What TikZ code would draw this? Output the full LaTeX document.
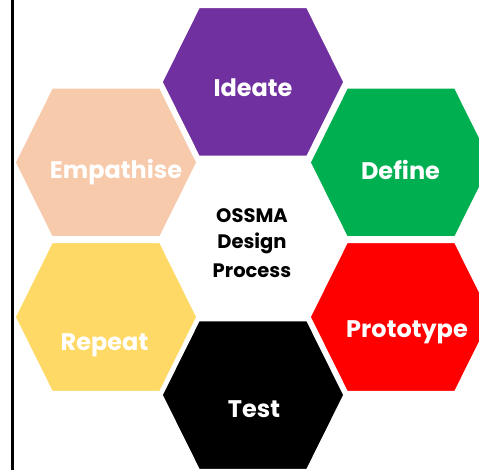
\documentclass[tikz,border=0pt]{standalone}
\usepackage{fontspec}
\setmainfont{Poppins}
\definecolor{ideatec}{RGB}{112,48,160}
\definecolor{definec}{RGB}{0,176,80}
\definecolor{protoc}{RGB}{255,0,0}
\definecolor{testc}{RGB}{0,0,0}
\definecolor{empc}{RGB}{247,202,172}
\definecolor{repc}{RGB}{255,217,102}
\tikzset{
  hexlabel/.style={anchor=base,text=white,font=\bfseries\fontsize{24}{29}\selectfont,inner sep=0pt},
  centerlabel/.style={anchor=base,text=black,font=\bfseries\fontsize{19.5}{24}\selectfont,inner sep=0pt},
}
\newcommand\myhex[3]{%
  \fill[#3,draw=white,line width=1.5pt,shift={(#1,#2)}]
    (-91,0) -- (-54,-74.5) -- (54,-74.5) -- (91,0) -- (54,74.5) -- (-54,74.5) -- cycle;}
\begin{document}
\begin{tikzpicture}[x=1pt,y=-1pt]
\useasboundingbox (0,0) rectangle (479,470);
\fill[white] (0,0) rectangle (479,470);
\begin{scope}
\clip (0,0) rectangle (479,470);
\myhex{253}{82}{ideatec}
\myhex{106}{162.5}{empc}
\myhex{401}{162.5}{definec}
\myhex{106}{317}{repc}
\myhex{401}{317}{protoc}
\myhex{253}{395}{testc}
\end{scope}
\draw[black,line width=3pt] (12.5,0) -- (12.5,470);
\node[hexlabel] (ideate) at (253,97) {Ideate};
\node[hexlabel] (empathise) at (116,179) {Empathise};
\node[hexlabel] (define) at (400.5,180) {Define};
\node[hexlabel] (repeat) at (104.5,350) {Repeat};
\node[hexlabel] (prototype) at (407,337) {Prototype};
\node[hexlabel] (test) at (254,417) {Test};
\node[centerlabel] (c1) at (252,223) {OSSMA};
\node[centerlabel] (c2) at (252,249) {Design};
\node[centerlabel] (c3) at (252,277) {Process};
\end{tikzpicture}
\end{document}
